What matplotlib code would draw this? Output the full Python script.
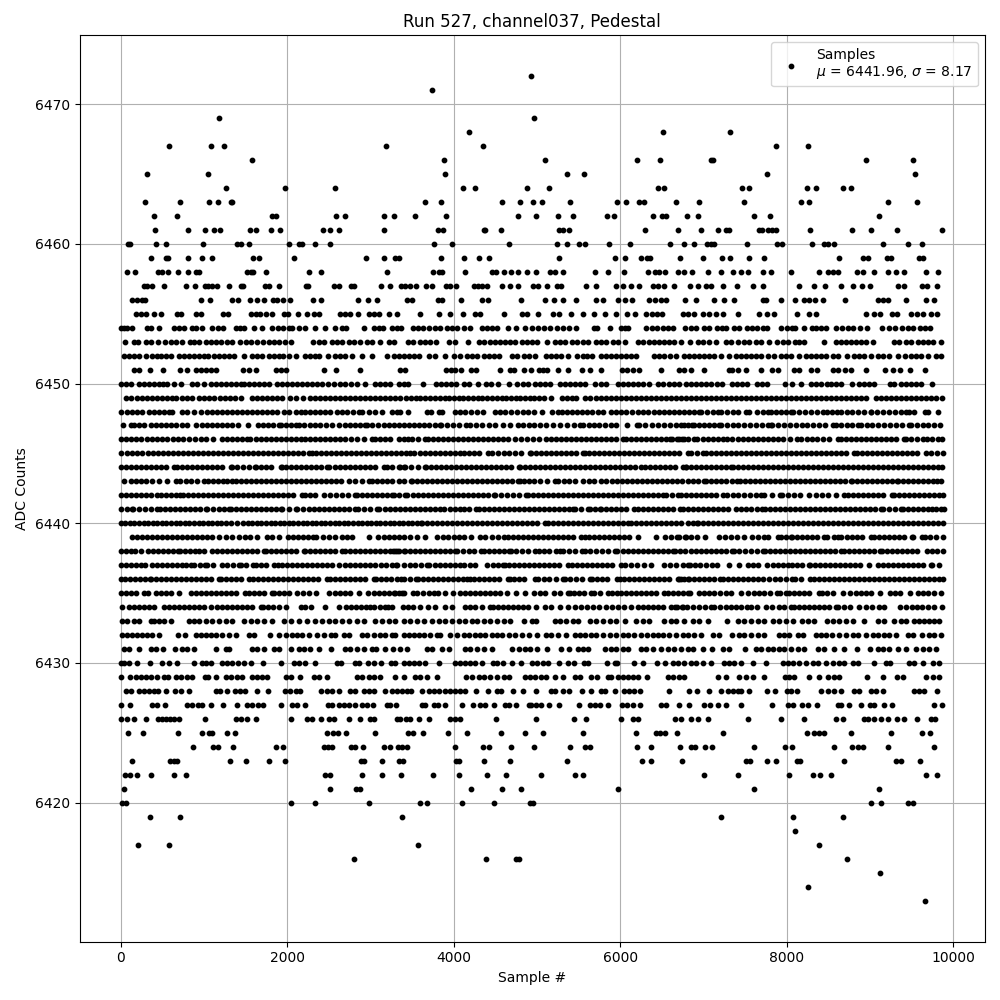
import matplotlib
matplotlib.use("Agg")
import matplotlib.pyplot as plt

# sample numbers per ADC level
# inside the solid stretches of 6434-6450 single dots can't be told apart, those spots are estimates
adc_6472 = [4930]
adc_6471 = [3740]
adc_6469 = [1184, 4964]
adc_6468 = [4184, 6516, 7320]
adc_6467 = [584, 1088, 1244, 3188, 4352, 7872, 8256]
adc_6466 = [1580, 3884, 5100, 6204, 6480, 7088, 7120, 8952, 9516]
adc_6465 = [320, 1052, 3896, 5364, 5568, 7764, 9540]
adc_6464 = [1268, 1976, 2576, 4112, 4256, 4880, 5148, 6456, 6528, 7464, 7548, 8244, 8352, 8676, 8772]
adc_6463 = [296, 716, 1064, 1172, 1328, 1340, 3656, 3848, 4580, 4796, 4952, 5064, 5400, 5964, 6072, 6228, 6288, 6672, 6948, 7488, 8172, 8268, 9216, 9564]
adc_6462 = [404, 680, 1820, 1860, 2588, 2696, 3164, 3284, 3536, 3908, 4772, 4988, 5256, 5436, 5844, 5928, 6396, 6504, 6552, 6804, 6936, 7608, 7800, 9108]
adc_6461 = [416, 812, 1016, 1124, 1196, 1556, 1628, 1808, 1916, 2432, 2516, 2624, 3164, 3812, 3872, 4364, 4380, 4568, 5268, 5316, 5388, 6300, 6696, 6972, 7176, 7276, 7312, 7668, 7704, 7776, 7824, 7872, 8280, 8784, 9012, 9324, 9864]
adc_6460 = [92, 116, 428, 548, 992, 1400, 1440, 1544, 2024, 2140, 2180, 2336, 2516, 3764, 3980, 4664, 5244, 5364, 5508, 5580, 5868, 6120, 6600, 6768, 6888, 7044, 7092, 7132, 7524, 7884, 7944, 8304, 8444, 8492, 8568, 9156, 9456, 9624]
adc_6459 = [368, 540, 564, 812, 980, 1100, 1588, 1656, 2084, 2948, 3164, 3300, 3340, 3848, 4124, 4304, 4424, 5268, 5940, 6060, 6252, 6324, 6364, 6720, 6996, 7224, 7320, 7548, 7728, 8628, 8916, 8976, 9204, 9252, 9588, 9636]
adc_6458 = [80, 176, 452, 492, 572, 692, 812, 908, 940, 1520, 1560, 1592, 1748, 2264, 2408, 3200, 3752, 3820, 3860, 4136, 4460, 4508, 4604, 4688, 4772, 4880, 4992, 5160, 5220, 5308, 5700, 5856, 6048, 6336, 6420, 6472, 6540, 6696, 6768, 6864, 7056, 7212, 7356, 7452, 7540, 7716, 7812, 8052, 8388, 8492, 8552, 8612, 8844, 8912, 9052, 9216, 9312, 9408, 9672, 9816]
adc_6457 = [280, 320, 372, 524, 788, 892, 1012, 1052, 1092, 1160, 1300, 1448, 1472, 1728, 1780, 1904, 2228, 2252, 2564, 2620, 2768, 2808, 3128, 3236, 3364, 3420, 3480, 3548, 3668, 3740, 3908, 3960, 4032, 4248, 4292, 4340, 4400, 4580, 4676, 4772, 4952, 5012, 5124, 5244, 5292, 5592, 5712, 5952, 6032, 6132, 6232, 6392, 6456, 6532, 6644, 6840, 6932, 7028, 7092, 7232, 7404, 7592, 7716, 8148, 8332, 8460, 8652, 8800, 8904, 9000, 9332, 9412, 9624, 9684, 9804]
adc_6456 = [140, 200, 260, 288, 960, 1076, 1340, 1412, 1556, 1640, 1724, 1832, 1880, 1952, 2036, 2312, 2408, 2852, 2972, 3080, 3440, 3500, 3812, 3860, 4088, 4340, 4412, 4808, 5092, 5204, 5312, 5472, 5712, 5792, 5972, 6060, 6144, 6352, 6420, 6490, 6552, 6780, 6912, 7128, 7248, 7368, 7712, 7752, 7932, 8100, 8204, 8270, 8340, 8432, 8700, 9092, 9160, 9220, 9432, 9672, 9772]
adc_6455 = [188, 240, 300, 400, 480, 680, 720, 908, 968, 1232, 1284, 1568, 1620, 1668, 1748, 1820, 1960, 2008, 2132, 2240, 2320, 2380, 2640, 2700, 2760, 2852, 2984, 3040, 3104, 3228, 3320, 3596, 3824, 3956, 4112, 4256, 4316, 4604, 4820, 4880, 5012, 5192, 5260, 5412, 5556, 5688, 5820, 5952, 6084, 6180, 6312, 6380, 6440, 6504, 6752, 6820, 6890, 6992, 7072, 7150, 7232, 7416, 7672, 7760, 7852, 8124, 8272, 8352, 8948, 9052, 9124, 9260, 9324, 9492, 9570, 9640, 9730, 9804]
adc_6454 = [0, 40, 80, 140, 320, 360, 460, 640, 700, 760, 852, 908, 980, 1100, 1172, 1228, 1380, 1430, 1480, 1600, 1692, 1812, 1888, 1948, 2020, 2060, 2140, 2212, 2336, 2456, 2580, 2660, 2708, 2920, 3040, 3100, 3148, 3260, 3320, 3372, 3512, 3572, 3628, 3700, 3780, 3840, 3920, 3980, 4040, 4120, 4196, 4340, 4400, 4460, 4520, 4652, 4748, 4860, 4940, 5010, 5080, 5160, 5240, 5310, 5380, 5472, 5680, 5720, 5880, 6012, 6060, 6092, 6312, 6380, 6440, 6510, 6580, 6640, 6780, 6852, 6910, 7010, 7072, 7160, 7220, 7276, 7370, 7428, 7520, 7580, 7640, 7716, 7764, 7932, 8004, 8060, 8100, 8212, 8300, 8352, 8416, 8472, 8590, 8660, 8732, 8800, 8880, 8970, 9140, 9230, 9300, 9380, 9460, 9520, 9600, 9660, 9720]
adc_6453 = [56, 160, 212, 300, 360, 452, 528, 600, 660, 732, 828, 880, 940, 1020, 1080, 1140, 1200, 1280, 1332, 1428, 1500, 1560, 1640, 1712, 1780, 1840, 1900, 1968, 2040, 2312, 2380, 2440, 2540, 2600, 2660, 2740, 2800, 2880, 2960, 3020, 3120, 3220, 3280, 3452, 3512, 3600, 3660, 3720, 3788, 3940, 4020, 4172, 4300, 4360, 4440, 4500, 4560, 4620, 4680, 4740, 4820, 4880, 4940, 5000, 5120, 5212, 5272, 5332, 5420, 5484, 5552, 5612, 5704, 5772, 5832, 5912, 5972, 6060, 6212, 6272, 6352, 6412, 6472, 6532, 6592, 6652, 6732, 6840, 6932, 6992, 7072, 7152, 7272, 7332, 7412, 7492, 7552, 7632, 7692, 7792, 7884, 7952, 8012, 8100, 8152, 8212, 8448, 8592, 8652, 8712, 8772, 8832, 8892, 8952, 9032, 9284, 9352, 9432, 9492, 9572, 9632, 9692, 9752, 9852]
adc_6452 = [40, 100, 160, 220, 300, 380, 440, 480, 548, 600, 700, 760, 820, 880, 940, 1000, 1052, 1120, 1180, 1240, 1300, 1360, 1480, 1572, 1640, 1700, 1780, 1840, 1900, 1948, 2020, 2100, 2220, 2280, 2340, 2388, 2492, 2580, 2640, 2700, 2780, 2900, 3020, 3200, 3280, 3340, 3400, 3460, 3520, 3580, 3700, 3780, 3896, 4000, 4080, 4160, 4220, 4280, 4360, 4420, 4480, 4540, 4700, 4760, 4840, 4900, 4980, 5112, 5172, 5232, 5292, 5372, 5484, 5552, 5604, 5664, 5764, 5832, 5892, 5952, 6012, 6072, 6132, 6192, 6404, 6472, 6532, 6604, 6672, 6772, 6832, 6892, 6952, 7012, 7072, 7132, 7212, 7312, 7392, 7452, 7512, 7572, 7632, 7692, 7772, 7852, 7932, 7992, 8052, 8152, 8232, 8292, 8352, 8412, 8472, 8552, 8612, 8720, 8812, 8872, 8932, 9012, 9092, 9152, 9232, 9332, 9420, 9492, 9552, 9612, 9692, 9792, 9852]
adc_6451 = [160, 220, 352, 512, 712, 800, 900, 960, 1020, 1080, 1148, 1472, 1540, 1628, 1860, 1920, 1980, 2444, 2588, 2880, 3352, 3412, 3912, 3964, 4012, 4084, 4212, 4272, 4560, 4672, 4724, 4848, 4932, 5020, 5072, 5124, 5252, 5376, 5544, 5632, 5772, 6024, 6084, 6152, 6232, 6492, 6712, 6768, 6848, 7008, 7308, 7348, 7416, 7508, 7688, 7820, 7892, 8088, 8148, 8288, 8360, 8560, 8616, 8700, 8776, 8948, 9176, 9280, 9360, 9476, 9656]
adc_6450 = [0, 60, 120, 220, 280, 340, 400, 460, 510, 560, 640, 720, 860, 920, 1000, 1080, 1140, 1200, 1260, 1320, 1380, 1440, 1480, 1540, 1600, 1660, 1720, 1780, 1880, 1940, 2000, 2060, 2120, 2180, 2240, 2300, 2360, 2420, 2490, 2560, 2640, 2700, 2770, 2840, 2932, 3060, 3120, 3180, 3240, 3340, 3400, 3452, 3632, 3792, 3852, 3912, 3972, 4032, 4124, 4180, 4292, 4392, 4452, 4532, 4660, 4760, 4832, 4892, 4972, 5032, 5092, 5152, 5272, 5332, 5392, 5452, 5512, 5572, 5700, 5772, 5832, 5972, 6032, 6092, 6152, 6212, 6272, 6352, 6452, 6512, 6592, 6652, 6712, 6788, 6848, 6908, 6968, 7028, 7088, 7168, 7228, 7348, 7408, 7468, 7528, 7648, 7708, 7768, 7976, 8068, 8168, 8288, 8348, 8408, 8480, 8536, 8588, 8656, 8780, 8868, 8928, 8988, 9048, 9240, 9288, 9368, 9428, 9488, 9548, 9608, 9740]
adc_6449 = [60, 120, 200, 260, 320, 380, 440, 500, 560, 620, 660, 740, 800, 860, 940, 1000, 1060, 1120, 1190, 1250, 1310, 1370, 1440, 1580, 1640, 1700, 1760, 1820, 1880, 1940, 2030, 2110, 2190, 2270, 2340, 2400, 2460, 2520, 2580, 2640, 2700, 2760, 2820, 2880, 2940, 3000, 3060, 3120, 3180, 3240, 3300, 3360, 3432, 3490, 3545, 3600, 3660, 3715, 3770, 3830, 3890, 3945, 4000, 4060, 4115, 4170, 4230, 4290, 4345, 4400, 4460, 4520, 4575, 4630, 4690, 4745, 4800, 4860, 4915, 4970, 5030, 5090, 5170, 5300, 5360, 5420, 5470, 5572, 5640, 5710, 5770, 5830, 5890, 5950, 6010, 6070, 6130, 6190, 6250, 6310, 6370, 6430, 6490, 6550, 6610, 6670, 6730, 6790, 6850, 6910, 6970, 7030, 7090, 7150, 7210, 7270, 7330, 7390, 7450, 7510, 7570, 7630, 7690, 7750, 7810, 7870, 7930, 7990, 8050, 8110, 8170, 8230, 8290, 8350, 8410, 8470, 8530, 8590, 8650, 8710, 8770, 8830, 8890, 8950, 9068, 9130, 9190, 9250, 9310, 9370, 9430, 9490, 9550, 9610, 9670, 9730, 9790, 9860]
adc_6448 = [0, 80, 140, 200, 260, 340, 400, 460, 520, 580, 620, 740, 800, 880, 960, 1040, 1100, 1160, 1220, 1280, 1340, 1400, 1460, 1520, 1580, 1640, 1700, 1760, 1820, 1880, 1960, 2020, 2100, 2160, 2220, 2280, 2340, 2400, 2460, 2520, 2600, 2660, 2720, 2790, 2860, 2900, 2980, 3060, 3140, 3260, 3320, 3360, 3452, 3684, 3724, 3820, 3864, 4020, 4072, 4140, 4210, 4280, 4352, 4492, 4560, 4620, 4690, 4760, 4830, 4890, 4960, 5064, 5180, 5252, 5300, 5360, 5420, 5480, 5540, 5600, 5660, 5730, 5792, 5884, 5950, 6010, 6070, 6140, 6210, 6280, 6340, 6412, 6472, 6530, 6590, 6650, 6710, 6770, 6830, 6890, 6948, 6968, 7040, 7110, 7176, 7208, 7280, 7350, 7420, 7508, 7548, 7640, 7710, 7776, 7808, 7870, 7930, 7990, 8048, 8080, 8150, 8220, 8290, 8370, 8440, 8488, 8550, 8608, 8656, 8720, 8790, 8860, 8930, 9008, 9016, 9090, 9160, 9230, 9300, 9370, 9428, 9468, 9528, 9656, 9700, 9816]
adc_6447 = [32, 120, 160, 220, 280, 360, 420, 480, 540, 600, 660, 732, 800, 900, 980, 1040, 1100, 1160, 1220, 1280, 1340, 1404, 1528, 1652, 1710, 1770, 1830, 1900, 1920, 1980, 2040, 2100, 2140, 2200, 2270, 2340, 2400, 2470, 2540, 2628, 2690, 2750, 2810, 2870, 2940, 2960, 3020, 3090, 3160, 3220, 3280, 3340, 3400, 3460, 3520, 3580, 3640, 3700, 3770, 3832, 3852, 3920, 3990, 4060, 4152, 4192, 4272, 4340, 4420, 4500, 4592, 4680, 4772, 4832, 4900, 4970, 5040, 5110, 5190, 5272, 5364, 5440, 5512, 5552, 5620, 5690, 5750, 5820, 5890, 5952, 6084, 6204, 6232, 6300, 6380, 6452, 6532, 6600, 6670, 6732, 6772, 6812, 6860, 6888, 6948, 7010, 7070, 7130, 7188, 7208, 7280, 7350, 7420, 7490, 7560, 7630, 7700, 7770, 7816, 7828, 7900, 7970, 8040, 8110, 8180, 8250, 8320, 8390, 8460, 8560, 8588, 8650, 8720, 8790, 8856, 8896, 8960, 9030, 9100, 9170, 9240, 9310, 9380, 9468, 9496, 9570, 9640, 9700, 9768, 9836]
adc_6446 = [0, 60, 120, 180, 240, 320, 380, 440, 500, 560, 628, 690, 750, 820, 890, 960, 1020, 1112, 1212, 1280, 1340, 1400, 1460, 1520, 1552, 1620, 1680, 1740, 1800, 1860, 1920, 1980, 2040, 2100, 2160, 2220, 2280, 2340, 2400, 2460, 2520, 2580, 2640, 2700, 2770, 2840, 2920, 3020, 3060, 3120, 3180, 3240, 3340, 3400, 3452, 3500, 3570, 3652, 3692, 3750, 3810, 3870, 3930, 3990, 4050, 4110, 4170, 4230, 4290, 4350, 4410, 4470, 4530, 4590, 4650, 4740, 4812, 4880, 4950, 5030, 5112, 5172, 5230, 5290, 5350, 5410, 5470, 5530, 5590, 5650, 5710, 5770, 5830, 5890, 5950, 6032, 6072, 6130, 6190, 6250, 6310, 6370, 6430, 6490, 6552, 6604, 6712, 6772, 6628, 6680, 6748, 6810, 6888, 6928, 6990, 7050, 7110, 7170, 7230, 7288, 7348, 7410, 7470, 7530, 7590, 7650, 7710, 7770, 7830, 7890, 7950, 8040, 8120, 8176, 8240, 8300, 8370, 8440, 8510, 8616, 8648, 8710, 8770, 8830, 8890, 8950, 9010, 9070, 9130, 9190, 9250, 9310, 9408, 9428, 9490, 9560, 9640, 9680, 9750, 9820, 9870]
adc_6445 = [8, 70, 130, 190, 252, 332, 390, 450, 510, 570, 630, 690, 750, 810, 870, 930, 990, 1050, 1110, 1170, 1230, 1290, 1350, 1410, 1470, 1530, 1590, 1650, 1710, 1770, 1830, 1890, 1950, 2010, 2070, 2130, 2190, 2260, 2300, 2348, 2410, 2470, 2530, 2590, 2650, 2710, 2770, 2830, 2890, 2950, 3010, 3070, 3130, 3190, 3250, 3310, 3370, 3432, 3480, 3524, 3590, 3650, 3710, 3770, 3830, 3890, 3950, 4010, 4070, 4130, 4190, 4250, 4310, 4412, 4460, 4530, 4600, 4670, 4740, 4810, 4912, 4932, 4990, 5050, 5110, 5170, 5230, 5290, 5350, 5410, 5470, 5552, 5572, 5630, 5690, 5750, 5810, 5870, 5930, 5990, 6050, 6110, 6170, 6230, 6290, 6350, 6410, 6470, 6530, 6590, 6650, 6710, 6816, 6848, 6920, 7000, 7028, 7090, 7150, 7210, 7270, 7330, 7390, 7450, 7510, 7570, 7630, 7690, 7750, 7810, 7870, 7930, 7990, 8050, 8110, 8170, 8230, 8290, 8350, 8410, 8470, 8530, 8590, 8650, 8710, 8808, 8848, 8910, 8970, 9030, 9090, 9150, 9210, 9270, 9330, 9390, 9450, 9510, 9568, 9668, 9730, 9800, 9880]
adc_6444 = [0, 60, 120, 180, 240, 300, 360, 420, 480, 540, 640, 680, 740, 800, 860, 920, 980, 1040, 1100, 1160, 1220, 1320, 1332, 1400, 1470, 1540, 1612, 1628, 1690, 1750, 1810, 1920, 1932, 1990, 2050, 2110, 2170, 2230, 2290, 2350, 2410, 2480, 2508, 2570, 2630, 2690, 2750, 2810, 2870, 2930, 2990, 3050, 3160, 3200, 3260, 3340, 3400, 3352, 3420, 3490, 3570, 3652, 3664, 3730, 3790, 3850, 3910, 3970, 4030, 4090, 4150, 4210, 4270, 4330, 4390, 4450, 4510, 4570, 4630, 4690, 4784, 4800, 4860, 4920, 4980, 5040, 5100, 5160, 5220, 5280, 5340, 5400, 5460, 5520, 5580, 5640, 5700, 5760, 5820, 5880, 5940, 6000, 6060, 6120, 6180, 6252, 6300, 6360, 6420, 6480, 6540, 6600, 6660, 6752, 6792, 6850, 6788, 6910, 6970, 7030, 7090, 7150, 7210, 7270, 7328, 7360, 7420, 7480, 7540, 7600, 7660, 7720, 7780, 7840, 7900, 7960, 8020, 8080, 8140, 8200, 8260, 8320, 8380, 8440, 8500, 8560, 8620, 8680, 8740, 8800, 8860, 8920, 8980, 9040, 9100, 9160, 9220, 9280, 9340, 9400, 9460, 9520, 9580, 9640, 9700, 9760, 9820, 9868]
adc_6443 = [40, 120, 180, 240, 300, 380, 460, 560, 660, 712, 780, 850, 920, 1000, 1052, 1110, 1170, 1230, 1280, 1332, 1390, 1450, 1510, 1570, 1630, 1690, 1750, 1810, 1870, 1930, 1990, 2050, 2110, 2170, 2230, 2290, 2350, 2410, 2470, 2530, 2590, 2650, 2740, 2820, 2900, 2988, 3020, 3080, 3140, 3200, 3260, 3340, 3400, 3492, 3500, 3560, 3620, 3680, 3740, 3800, 3860, 3920, 3980, 4040, 4100, 4160, 4220, 4280, 4340, 4400, 4460, 4520, 4580, 4640, 4700, 4772, 4792, 4850, 4910, 4970, 5032, 5124, 5212, 5252, 5320, 5390, 5452, 5552, 5620, 5690, 5772, 5832, 5900, 5960, 6020, 6080, 6140, 6200, 6260, 6320, 6380, 6440, 6500, 6560, 6620, 6680, 6740, 6812, 6870, 6930, 7008, 7028, 7090, 7150, 7210, 7270, 7340, 7408, 7436, 7500, 7560, 7620, 7680, 7740, 7800, 7860, 7920, 7980, 8040, 8100, 8160, 8220, 8280, 8340, 8400, 8460, 8520, 8580, 8640, 8700, 8768, 8788, 8850, 8910, 8970, 9030, 9090, 9148, 9200, 9260, 9320, 9340, 9400, 9460, 9520, 9580, 9640, 9700, 9760, 9808, 9856]
adc_6442 = [0, 60, 120, 180, 240, 300, 370, 440, 480, 540, 600, 660, 712, 748, 810, 870, 930, 990, 1050, 1110, 1170, 1230, 1290, 1350, 1410, 1470, 1530, 1590, 1650, 1710, 1770, 1830, 1890, 1950, 2010, 2070, 2180, 2220, 2280, 2340, 2440, 2520, 2590, 2660, 2730, 2820, 2840, 2900, 2960, 3020, 3080, 3140, 3200, 3260, 3280, 3340, 3412, 3444, 3510, 3570, 3630, 3690, 3750, 3810, 3870, 3930, 3990, 4050, 4110, 4170, 4230, 4290, 4350, 4410, 4484, 4500, 4570, 4640, 4710, 4790, 4872, 4892, 4950, 5010, 5070, 5130, 5190, 5250, 5310, 5370, 5430, 5490, 5550, 5610, 5670, 5730, 5790, 5850, 5910, 5970, 6030, 6090, 6150, 6210, 6270, 6330, 6390, 6450, 6512, 6552, 6620, 6692, 6732, 6792, 6850, 6910, 6970, 7030, 7090, 7150, 7240, 7280, 7350, 7420, 7490, 7560, 7630, 7688, 7728, 7820, 7920, 7948, 8020, 8090, 8160, 8268, 8348, 8428, 8500, 8590, 8688, 8740, 8800, 8860, 8920, 8980, 9040, 9100, 9160, 9268, 9288, 9350, 9410, 9470, 9530, 9590, 9650, 9710, 9770, 9830, 9880]
adc_6441 = [0, 70, 140, 152, 220, 290, 360, 440, 472, 530, 590, 650, 710, 770, 830, 890, 950, 1020, 1040, 1110, 1180, 1240, 1300, 1320, 1380, 1440, 1500, 1560, 1620, 1680, 1740, 1800, 1860, 1920, 1940, 2020, 2100, 2120, 2190, 2260, 2320, 2380, 2440, 2500, 2560, 2620, 2680, 2740, 2820, 2852, 2920, 2990, 3080, 3108, 3170, 3230, 3290, 3350, 3410, 3470, 3530, 3590, 3650, 3710, 3770, 3832, 3884, 3950, 4010, 4070, 4130, 4190, 4272, 4300, 4360, 4420, 4480, 4540, 4600, 4660, 4720, 4780, 4840, 4900, 4960, 5020, 5080, 5140, 5200, 5260, 5320, 5380, 5432, 5460, 5530, 5612, 5640, 5700, 5752, 5772, 5830, 5890, 5950, 6010, 6070, 6164, 6212, 6280, 6340, 6400, 6460, 6520, 6580, 6640, 6724, 6752, 6812, 6870, 6930, 6990, 7050, 7110, 7170, 7230, 7290, 7388, 7448, 7510, 7570, 7640, 7708, 7736, 7800, 7860, 7920, 7980, 8040, 8100, 8160, 8220, 8280, 8340, 8400, 8460, 8520, 8580, 8640, 8700, 8760, 8820, 8880, 8940, 9000, 9060, 9128, 9160, 9230, 9300, 9368, 9400, 9460, 9520, 9580, 9640, 9700, 9748, 9788, 9850, 9888]
adc_6440 = [0, 55, 110, 165, 220, 275, 330, 385, 440, 495, 550, 605, 660, 715, 770, 825, 880, 935, 990, 1045, 1100, 1155, 1210, 1265, 1320, 1400, 1468, 1525, 1580, 1635, 1690, 1745, 1800, 1855, 1910, 1965, 2020, 2075, 2130, 2185, 2240, 2295, 2350, 2405, 2460, 2515, 2570, 2625, 2680, 2735, 2790, 2845, 2900, 2955, 3010, 3065, 3120, 3175, 3230, 3285, 3340, 3395, 3450, 3505, 3560, 3612, 3620, 3680, 3740, 3800, 3860, 3920, 3980, 4040, 4100, 4160, 4220, 4280, 4340, 4400, 4460, 4520, 4580, 4640, 4700, 4760, 4820, 4880, 4940, 5000, 5092, 5132, 5190, 5250, 5310, 5370, 5430, 5490, 5550, 5610, 5670, 5730, 5790, 5850, 5910, 5970, 6030, 6100, 6132, 6190, 6250, 6310, 6370, 6430, 6490, 6550, 6610, 6670, 6730, 6812, 6870, 6928, 6940, 7000, 7060, 7120, 7180, 7240, 7300, 7360, 7420, 7480, 7540, 7600, 7660, 7720, 7780, 7840, 7900, 7960, 8020, 8080, 8140, 8200, 8260, 8320, 8380, 8440, 8500, 8560, 8620, 8680, 8740, 8800, 8860, 8920, 8980, 9040, 9100, 9160, 9220, 9280, 9340, 9400, 9460, 9520, 9580, 9640, 9700, 9760, 9820, 9880]
adc_6439 = [140, 200, 260, 320, 380, 440, 500, 560, 620, 680, 740, 800, 860, 920, 980, 1040, 1100, 1180, 1268, 1340, 1420, 1492, 1548, 1640, 1760, 1820, 1900, 2012, 2068, 2130, 2190, 2250, 2308, 2348, 2428, 2500, 2580, 2660, 2720, 2780, 2988, 3092, 3160, 3220, 3280, 3340, 3404, 3472, 3560, 3660, 3804, 3870, 3930, 4000, 4060, 4124, 4204, 4312, 4380, 4460, 4530, 4604, 4652, 4710, 4770, 4830, 4890, 4950, 5010, 5070, 5130, 5190, 5250, 5310, 5370, 5430, 5532, 5572, 5630, 5690, 5750, 5810, 5870, 5930, 5990, 6050, 6110, 6220, 6432, 6540, 6612, 6680, 6792, 6712, 6780, 6850, 6920, 7016, 7188, 7260, 7330, 7408, 7488, 7588, 7650, 7728, 7780, 7896, 7928, 7990, 8048, 8068, 8130, 8190, 8250, 8310, 8370, 8448, 8480, 8568, 8616, 8656, 8720, 8780, 8840, 8900, 9016, 9048, 9110, 9170, 9230, 9290, 9350, 9410, 9508, 9520, 9628, 9656, 9720, 9790, 9880]
adc_6438 = [0, 60, 120, 172, 240, 332, 390, 450, 510, 570, 630, 692, 712, 770, 830, 890, 940, 1004, 1100, 1160, 1220, 1280, 1340, 1400, 1460, 1520, 1580, 1640, 1720, 1740, 1800, 1860, 1920, 1980, 2040, 2100, 2200, 2212, 2270, 2330, 2390, 2450, 2510, 2570, 2660, 2692, 2750, 2810, 2870, 2930, 2990, 3050, 3110, 3170, 3230, 3300, 3320, 3272, 3340, 3404, 3420, 3480, 3540, 3600, 3660, 3720, 3780, 3840, 3900, 3960, 4012, 4044, 4110, 4180, 4250, 4332, 4360, 4420, 4480, 4540, 4600, 4660, 4684, 4750, 4820, 4890, 4972, 5030, 5090, 5150, 5232, 5272, 5312, 5380, 5460, 5540, 5572, 5640, 5710, 5780, 5850, 5932, 5964, 6030, 6090, 6150, 6210, 6270, 6330, 6390, 6450, 6510, 6570, 6632, 6660, 6720, 6780, 6850, 6910, 6970, 7030, 7090, 7150, 7210, 7270, 7348, 7368, 7430, 7500, 7570, 7640, 7720, 7736, 7800, 7860, 7920, 7980, 8040, 8100, 8160, 8220, 8280, 8340, 8400, 8460, 8520, 8580, 8648, 8688, 8750, 8810, 8870, 8930, 8990, 9050, 9120, 9148, 9210, 9270, 9330, 9390, 9450, 9510, 9568, 9680, 9740, 9810, 9880]
adc_6437 = [0, 60, 120, 180, 240, 292, 380, 440, 500, 560, 620, 680, 740, 790, 840, 880, 950, 1012, 1040, 1110, 1212, 1280, 1350, 1420, 1448, 1510, 1588, 1620, 1680, 1740, 1836, 1888, 1940, 2000, 2060, 2120, 2180, 2240, 2300, 2360, 2420, 2480, 2540, 2628, 2690, 2750, 2810, 2870, 2940, 3000, 3060, 3130, 3190, 3260, 3320, 3312, 3404, 3470, 3540, 3610, 3684, 3700, 3770, 3830, 3890, 3950, 4010, 4070, 4130, 4192, 4260, 4404, 4470, 4530, 4592, 4612, 4664, 4730, 4790, 4850, 4910, 4970, 5030, 5090, 5150, 5210, 5270, 5372, 5420, 5480, 5540, 5600, 5660, 5720, 5780, 5840, 5900, 6012, 6060, 6130, 6200, 6290, 6372, 6532, 6600, 6670, 6750, 6812, 6840, 6896, 6960, 7030, 7108, 7168, 7308, 7428, 7536, 7600, 7656, 7768, 7830, 7890, 7950, 8010, 8070, 8130, 8190, 8268, 8280, 8340, 8400, 8460, 8520, 8580, 8640, 8700, 8760, 8820, 8880, 8988, 9100, 9160, 9220, 9280, 9340, 9400, 9460, 9520, 9580, 9640, 9728, 9748, 9828]
adc_6436 = [0, 55, 115, 175, 235, 295, 348, 368, 430, 490, 550, 610, 670, 730, 790, 850, 910, 970, 1030, 1090, 1180, 1200, 1260, 1320, 1380, 1440, 1540, 1588, 1650, 1710, 1770, 1830, 1890, 1950, 2010, 2070, 2130, 2190, 2250, 2310, 2370, 2480, 2512, 2570, 2630, 2690, 2750, 2810, 2870, 2930, 3040, 3068, 3130, 3190, 3250, 3320, 3372, 3400, 3470, 3552, 3572, 3630, 3690, 3750, 3810, 3870, 3930, 3990, 4050, 4110, 4164, 4192, 4250, 4310, 4370, 4430, 4490, 4550, 4652, 4672, 4730, 4790, 4850, 4972, 5012, 5080, 5150, 5230, 5312, 5332, 5400, 5470, 5540, 5632, 5660, 5720, 5780, 5840, 5960, 5992, 6050, 6110, 6170, 6230, 6290, 6350, 6410, 6470, 6530, 6592, 6692, 6732, 6812, 6708, 6770, 6830, 6890, 6950, 7010, 7070, 7130, 7200, 7240, 7300, 7360, 7420, 7480, 7540, 7600, 7660, 7720, 7790, 7856, 7916, 7990, 8068, 8096, 8170, 8280, 8328, 8390, 8450, 8510, 8570, 8630, 8690, 8750, 8810, 8870, 8930, 8990, 9050, 9110, 9170, 9230, 9290, 9350, 9410, 9470, 9530, 9590, 9650, 9710, 9770, 9830, 9880]
adc_6435 = [0, 60, 120, 180, 280, 332, 420, 480, 540, 610, 700, 840, 900, 960, 1020, 1088, 1150, 1210, 1270, 1330, 1390, 1492, 1540, 1600, 1660, 1720, 1812, 1840, 1900, 1960, 2020, 2120, 2188, 2260, 2348, 2508, 2570, 2630, 2690, 2750, 2860, 2972, 3040, 3100, 3160, 3220, 3280, 3340, 3380, 3300, 3404, 3512, 3564, 3630, 3700, 3764, 3812, 3890, 3992, 4072, 4140, 4200, 4260, 4320, 4380, 4440, 4500, 4560, 4644, 4752, 4852, 4964, 5032, 5092, 5204, 5280, 5372, 5392, 5450, 5510, 5570, 5652, 5684, 5760, 5852, 5900, 5964, 6012, 6070, 6130, 6190, 6250, 6310, 6370, 6430, 6532, 6572, 6640, 6700, 6760, 6812, 6840, 6948, 7010, 7070, 7130, 7200, 7268, 7336, 7456, 7540, 7610, 7670, 7730, 7800, 7880, 7920, 7988, 8028, 8090, 8150, 8210, 8270, 8388, 8428, 8490, 8560, 8680, 8756, 8828, 8890, 8950, 9010, 9116, 9236, 9300, 9360, 9480, 9576, 9640, 9700, 9770, 9848]
adc_6434 = [20, 100, 160, 220, 280, 340, 400, 520, 580, 640, 700, 760, 820, 880, 940, 1000, 1080, 1160, 1220, 1280, 1340, 1400, 1460, 1520, 1580, 1680, 1708, 1770, 1830, 1900, 1980, 2160, 2220, 2292, 2460, 2620, 2708, 2770, 2830, 2890, 2950, 3000, 3040, 3110, 3180, 3260, 3212, 3392, 3450, 3512, 3592, 3692, 3780, 3900, 3980, 4140, 4200, 4260, 4340, 4432, 4472, 4530, 4590, 4650, 4710, 4770, 4830, 4890, 4992, 5092, 5170, 5272, 5372, 5452, 5524, 5600, 5670, 5740, 5832, 5900, 5970, 6040, 6132, 6212, 6272, 6332, 6390, 6452, 6512, 6612, 6680, 6760, 6656, 6748, 6808, 6880, 6950, 7020, 7088, 7128, 7200, 7268, 7328, 7390, 7450, 7528, 7576, 7648, 7748, 7828, 7908, 7968, 8048, 8088, 8150, 8210, 8270, 8330, 8390, 8450, 8510, 8588, 8616, 8690, 8760, 8868, 8956, 9030, 9108, 9168, 9356, 9430, 9508, 9560, 9630, 9700, 9770, 9868]
adc_6433 = [20, 80, 160, 220, 360, 400, 460, 520, 600, 820, 880, 940, 1020, 1100, 1180, 1260, 1340, 1480, 1560, 1640, 1720, 1820, 1960, 2040, 2140, 2240, 2340, 2420, 2500, 2580, 2660, 2740, 2840, 2920, 3060, 3140, 3220, 3300, 3400, 3480, 3560, 3640, 3740, 3820, 3900, 3980, 4060, 4140, 4220, 4280, 4360, 4440, 4520, 4600, 4680, 4840, 4940, 4992, 5212, 5272, 5344, 5432, 5492, 5632, 5712, 5792, 5872, 5952, 6052, 6192, 6272, 6352, 6532, 6612, 6672, 6772, 6872, 6952, 7052, 7284, 7412, 7492, 7572, 7652, 7732, 7832, 7912, 7992, 8072, 8180, 8252, 8332, 8484, 8552, 8632, 8712, 8792, 8932, 9092, 9172, 9292, 9372, 9432, 9532, 9592, 9652, 9712, 9772, 9832]
adc_6432 = [20, 80, 140, 200, 260, 320, 380, 460, 692, 772, 900, 960, 1020, 1080, 1140, 1220, 1300, 1380, 1540, 1600, 1788, 1900, 1980, 2060, 2120, 2180, 2260, 2360, 2440, 2528, 2580, 2680, 2740, 2900, 2960, 3040, 3120, 3180, 3260, 3300, 3400, 3460, 3520, 3580, 3640, 3720, 3800, 3840, 3960, 4040, 4120, 4180, 4260, 4320, 4380, 4460, 4520, 4580, 4660, 4740, 4820, 4900, 5000, 5112, 5172, 5252, 5352, 5452, 5512, 5572, 5652, 5712, 5792, 5872, 5952, 6032, 6092, 6172, 6252, 6324, 6392, 6452, 6512, 6592, 6672, 6752, 6812, 6892, 6972, 7112, 7192, 7344, 7432, 7492, 7572, 7652, 7732, 7912, 7972, 8032, 8132, 8192, 8352, 8412, 8472, 8544, 8632, 8712, 8792, 8852, 8952, 9032, 9092, 9172, 9232, 9312, 9452, 9512, 9624, 9712, 9772, 9852]
adc_6431 = [40, 100, 224, 360, 428, 512, 648, 740, 800, 880, 1148, 1260, 1300, 1580, 1640, 1720, 1840, 1900, 2044, 2140, 2200, 2280, 2380, 2528, 2700, 2760, 2840, 2928, 3020, 3068, 3180, 3268, 3360, 3440, 3680, 3740, 3860, 3948, 4140, 4200, 4280, 4360, 4460, 4700, 4780, 4860, 4920, 5004, 5124, 5292, 5388, 5492, 5552, 5612, 5812, 5892, 5952, 6032, 6092, 6252, 6312, 6392, 6492, 6572, 6652, 6732, 6812, 6872, 6992, 7104, 7240, 7312, 7500, 7632, 7692, 7772, 7832, 7912, 7972, 8052, 8132, 8212, 8372, 8452, 8572, 8692, 8840, 9000, 9092, 9152, 9232, 9332, 9432, 9552, 9632, 9712, 9792]
adc_6430 = [0, 40, 100, 200, 356, 500, 580, 680, 880, 972, 1020, 1080, 1220, 1280, 1332, 1412, 1480, 1560, 1712, 1928, 2080, 2140, 2212, 2336, 2600, 2648, 2812, 2860, 2972, 3040, 3128, 3252, 3300, 3400, 3460, 3520, 3580, 3660, 3824, 4020, 4080, 4140, 4200, 4260, 4340, 4472, 4520, 4588, 4700, 4808, 4940, 5000, 5072, 5132, 5260, 5368, 5448, 5564, 5612, 5844, 5932, 5964, 6168, 6276, 6444, 6540, 6636, 6692, 6772, 6852, 6912, 6992, 7092, 7252, 7312, 7372, 7452, 7592, 7752, 7952, 8012, 8072, 8152, 8232, 8312, 8372, 8472, 8552, 8632, 8692, 8792, 8852, 9048, 9192, 9244, 9472, 9532, 9632, 9752, 9832]
adc_6429 = [8, 108, 180, 240, 300, 360, 440, 520, 572, 660, 720, 800, 860, 1012, 1052, 1140, 1260, 1320, 1400, 1460, 1580, 1640, 1700, 1760, 1988, 2040, 2156, 2320, 2380, 2480, 2840, 2900, 2980, 3040, 3120, 3300, 3400, 3532, 3600, 3680, 3800, 4152, 4220, 4300, 4360, 4440, 4520, 4600, 4660, 4860, 4920, 4980, 5044, 5112, 5212, 5312, 5452, 5512, 5652, 5720, 5852, 5892, 5972, 6032, 6092, 6152, 6212, 6324, 6572, 6632, 6712, 6772, 7172, 7272, 7432, 7512, 7592, 7724, 7980, 8032, 8092, 8272, 8392, 8492, 8572, 8632, 8964, 9156, 9324, 9392, 9672, 9752, 9832]
adc_6428 = [60, 120, 224, 284, 340, 400, 452, 540, 648, 720, 824, 1140, 1188, 1280, 1372, 1428, 1496, 1640, 1768, 1972, 2028, 2100, 2152, 2412, 2480, 2540, 2620, 2760, 2820, 2920, 2980, 3040, 3180, 3260, 3320, 3380, 3440, 3492, 3620, 3700, 3760, 3820, 3892, 3960, 4020, 4080, 4140, 4268, 4416, 4520, 4568, 4712, 4832, 4988, 5172, 5220, 5312, 5388, 5544, 5652, 5764, 5820, 5940, 6044, 6112, 6172, 6240, 6588, 6828, 6924, 7068, 7212, 7292, 7352, 7412, 7452, 7548, 7760, 7860, 8004, 8056, 8124, 8412, 8492, 8572, 8652, 8812, 8872, 9012, 9072, 9152, 9524, 9592, 9652, 9804]
adc_6427 = [0, 116, 380, 440, 536, 800, 852, 932, 980, 1088, 1232, 1400, 1520, 1580, 1652, 1712, 1928, 2060, 2120, 2216, 2492, 2540, 2628, 2680, 2740, 2812, 2900, 2960, 3028, 3200, 3240, 3308, 3620, 3660, 3764, 3812, 3896, 4100, 4232, 4320, 4380, 4480, 4620, 4660, 4748, 4900, 4932, 4992, 5052, 5140, 5268, 5508, 5632, 5692, 5752, 5852, 6024, 6084, 6156, 6240, 6492, 6552, 6708, 6828, 7012, 7084, 7176, 7272, 7452, 7824, 8020, 8072, 8184, 8252, 8364, 8612, 8652, 8748, 8892, 9004, 9052, 9168, 9264, 9772, 9864]
adc_6426 = [8, 80, 164, 308, 452, 500, 548, 588, 644, 700, 1016, 1388, 1440, 1512, 1628, 2048, 2240, 2300, 2408, 2508, 2560, 2748, 2876, 3000, 3048, 3320, 3360, 3428, 3480, 3580, 3700, 3960, 4020, 4080, 4508, 4992, 5448, 5592, 6012, 6156, 6216, 6660, 6732, 6852, 6936, 7056, 7536, 7932, 8208, 8592, 8672, 8924, 8980, 9052, 9132, 9212, 9324, 9408, 9564, 9732, 9780]
adc_6425 = [92, 272, 692, 980, 1060, 1100, 1280, 1376, 2480, 2552, 2612, 2708, 3056, 3452, 3512, 3632, 3932, 4160, 4568, 4856, 5076, 5556, 6192, 6432, 6480, 6540, 6684, 7236, 8244, 8332, 8392, 8448, 8772, 9252, 9624, 9720]
adc_6424 = [872, 1112, 1172, 1352, 1868, 1952, 2444, 2492, 2540, 2768, 2820, 2912, 3164, 3236, 3332, 3380, 3436, 4016, 4352, 4424, 4684, 4968, 5400, 5580, 5640, 6204, 6372, 6720, 6852, 6900, 7020, 7104, 7608, 7980, 8064, 8568, 8784, 8860, 8912, 9216, 9768]
adc_6423 = [140, 596, 640, 680, 1316, 1508, 1784, 1976, 2888, 2924, 3144, 3340, 3392, 4028, 4060, 4368, 4676, 5364, 6264, 6372, 6744, 7512, 7564, 7764, 7872, 8124, 8156, 8688, 9308, 9372, 9600]
adc_6422 = [52, 116, 200, 368, 644, 788, 2452, 2516, 2900, 3140, 3368, 3752, 4064, 4400, 4628, 5052, 5460, 5556, 7008, 7416, 8028, 8316, 8400, 8532, 9672, 9808]
adc_6421 = [44, 2516, 2828, 2872, 4208, 4580, 4808, 5976, 7608, 9108]
adc_6420 = [20, 60, 2048, 2336, 2984, 3596, 3680, 4100, 4484, 4920, 4948, 9012, 9132, 9452, 9512]
adc_6419 = [356, 716, 3380, 7212, 8076, 8676]
adc_6418 = [8100]
adc_6417 = [212, 584, 3572, 8388]
adc_6416 = [2804, 4388, 4748, 4780, 8724]
adc_6415 = [9120]
adc_6414 = [8256]
adc_6413 = [9660]

adc_levels = {
    6472: adc_6472, 6471: adc_6471, 6469: adc_6469, 6468: adc_6468, 6467: adc_6467,
    6466: adc_6466, 6465: adc_6465, 6464: adc_6464, 6463: adc_6463, 6462: adc_6462,
    6461: adc_6461, 6460: adc_6460, 6459: adc_6459, 6458: adc_6458, 6457: adc_6457,
    6456: adc_6456, 6455: adc_6455, 6454: adc_6454, 6453: adc_6453, 6452: adc_6452,
    6451: adc_6451, 6450: adc_6450, 6449: adc_6449, 6448: adc_6448, 6447: adc_6447,
    6446: adc_6446, 6445: adc_6445, 6444: adc_6444, 6443: adc_6443, 6442: adc_6442,
    6441: adc_6441, 6440: adc_6440, 6439: adc_6439, 6438: adc_6438, 6437: adc_6437,
    6436: adc_6436, 6435: adc_6435, 6434: adc_6434, 6433: adc_6433, 6432: adc_6432,
    6431: adc_6431, 6430: adc_6430, 6429: adc_6429, 6428: adc_6428, 6427: adc_6427,
    6426: adc_6426, 6425: adc_6425, 6424: adc_6424, 6423: adc_6423, 6422: adc_6422,
    6421: adc_6421, 6420: adc_6420, 6419: adc_6419, 6418: adc_6418, 6417: adc_6417,
    6416: adc_6416, 6415: adc_6415, 6414: adc_6414, 6413: adc_6413,
}

samples = []
counts = []
for level, xs in adc_levels.items():
    samples.extend(xs)
    counts.extend([level] * len(xs))

fig, ax = plt.subplots(figsize=(10, 10))
ax.scatter(samples, counts, s=10, c='k', zorder=3, label='Samples\n$\\mu$ = 6441.96, $\\sigma$ = 8.17')
ax.set_title('Run 527, channel037, Pedestal')
ax.set_xlabel('Sample #')
ax.set_ylabel('ADC Counts')
ax.grid(True)
ax.legend(loc='upper right')
fig.tight_layout()
fig.subplots_adjust(top=0.965)
fig.savefig('out.png', dpi=100)
